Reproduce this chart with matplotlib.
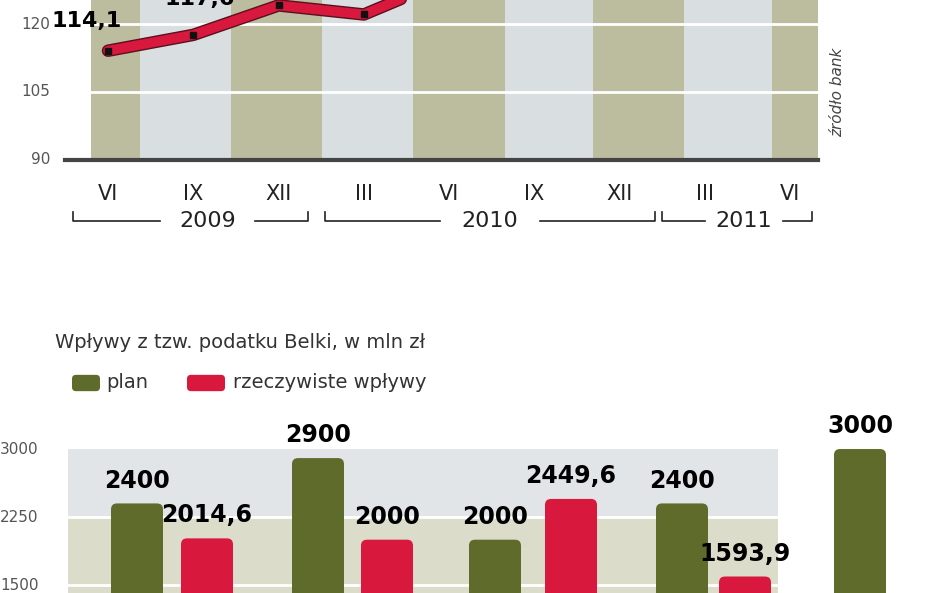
import matplotlib
matplotlib.use("Agg")
import matplotlib.pyplot as plt
from matplotlib.patches import FancyBboxPatch, Rectangle

# top chart data (index, quarter values)
months = ["VI", "IX", "XII", "III", "VI", "IX", "XII", "III", "VI"]
index_vals = [114.1, 117.6, 124.1, 122.1, 130.0]
index_labels = ["114,1", "117,6"]
years = ["2009", "2010", "2011"]

# bottom chart data
plan = [2400, 2900, 2000, 2400, 3000]
actual = [2014.6, 2000, 2449.6, 1593.9]
plan_labels = ["2400", "2900", "2000", "2400", "3000"]
actual_labels = ["2014,6", "2000", "2449,6", "1593,9"]

OLIVE = "#5f6b2a"
RED = "#d8183c"
W, H = 948, 593

fig = plt.figure(figsize=(W / 100, H / 100), dpi=100)
fig.patch.set_facecolor("white")

# ---------- top chart ----------
ax = fig.add_axes([0, 1 - 250 / H, 1, 250 / H])
ax.set_xlim(0, W)
ax.set_ylim(70.1, 125.3)
ax.axis("off")

band_edges = [91, 140, 231, 322, 413, 505, 593, 684, 772, 818]
for i in range(len(band_edges) - 1):
    col = "#bcbc9f" if i % 2 == 0 else "#d9dfe0"
    ax.add_patch(Rectangle((band_edges[i], 90), band_edges[i + 1] - band_edges[i], 40,
                           color=col, zorder=0, lw=0))
for g in (105, 120):
    ax.plot([65, 818], [g, g], color="white", lw=2, zorder=1)
ax.plot([65, 818], [90, 90], color="#444444", lw=3, zorder=3)
for g in (90, 105, 120):
    ax.text(50, g, str(g), ha="right", va="center", fontsize=11, color="#555555")

xs = [108 + i * 85.3 for i in range(len(months))]
ax.plot(xs[:len(index_vals)], index_vals, color="#5a1020", lw=9, zorder=4, solid_capstyle="round")
ax.plot(xs[:len(index_vals)], index_vals, color=RED, lw=7, zorder=5, solid_capstyle="round")
ax.plot(xs[:len(index_vals)], index_vals, "s", color="#111111", ms=5, zorder=6)
ax.text(52, 120.6, index_labels[0], fontsize=16, fontweight="bold", ha="left", va="center",
        zorder=7)
ax.text(165, 125.6, index_labels[1], fontsize=16, fontweight="bold", ha="left", va="center",
        zorder=7)
for x, m in zip(xs, months):
    ax.text(x, 82.5, m, ha="center", va="center", fontsize=15, color="#222222")

def bracket(x0, x1, xt0, xt1, label, y=76.5):
    ax.plot([x0, x0, xt0], [y + 2, y, y], color="#222222", lw=1.2)
    ax.plot([xt1, x1, x1], [y, y, y + 2], color="#222222", lw=1.2)
    ax.text((xt0 + xt1) / 2, y, label, ha="center", va="center", fontsize=16, color="#222222")

bracket(73, 308, 160, 255, years[0])
bracket(325, 655, 440, 540, years[1])
bracket(662, 812, 705, 783, years[2])
ax.text(838, 105, "źródło bank", rotation=90, ha="center", va="center",
        fontsize=11, color="#444444", style="italic")

# ---------- bottom chart ----------
bx = fig.add_axes([0, 0, 1, 400 / H])
bx.set_xlim(0, W)
bx.set_ylim(1412, 1412 + 400 * 11.03)
bx.axis("off")

bx.add_patch(Rectangle((68, 2250), 710, 750, color="#e1e5e8", lw=0, zorder=0))
bx.add_patch(Rectangle((68, 1400), 710, 850, color="#dcdccb", lw=0, zorder=0))
for g in (2250, 1500):
    bx.plot([68, 948], [g, g], color="white", lw=2, zorder=1)
for g in (3000, 2250, 1500):
    bx.text(0, g, str(g), ha="left", va="center", fontsize=11, color="#555555")

plan_x = [137, 318, 495, 682, 860]
actual_x = [207, 387, 571, 745]
for x, v, lab in zip(plan_x, plan, plan_labels):
    bx.add_patch(FancyBboxPatch((x - 26, 1300), 52, v - 1300, boxstyle="round,pad=0,rounding_size=6",
                                mutation_aspect=11, color=OLIVE, lw=0, zorder=2))
    bx.text(x, v + 120, lab, ha="center", va="bottom", fontsize=17, fontweight="bold", zorder=3)
for x, v, lab in zip(actual_x, actual, actual_labels):
    bx.add_patch(FancyBboxPatch((x - 26, 1300), 52, v - 1300, boxstyle="round,pad=0,rounding_size=6",
                                mutation_aspect=11, color=RED, lw=0, zorder=2))
    bx.text(x, v + 120, lab, ha="center", va="bottom", fontsize=17, fontweight="bold", zorder=3)

bx.text(55, 1412 + (593 - 343) * 11.03, "Wpływy z tzw. podatku Belki, w mln zł",
        ha="left", va="center", fontsize=14, color="#333333")
ly = 1412 + (593 - 383) * 11.03
bx.add_patch(FancyBboxPatch((72, ly - 90), 28, 180, boxstyle="round,pad=0,rounding_size=4",
                            mutation_aspect=11, color=OLIVE, lw=0))
bx.text(106, ly, "plan", ha="left", va="center", fontsize=14, color="#333333")
bx.add_patch(FancyBboxPatch((187, ly - 90), 38, 180, boxstyle="round,pad=0,rounding_size=4",
                            mutation_aspect=11, color=RED, lw=0))
bx.text(233, ly, "rzeczywiste wpływy", ha="left", va="center", fontsize=14, color="#333333")

fig.savefig("out.png", dpi=100)
